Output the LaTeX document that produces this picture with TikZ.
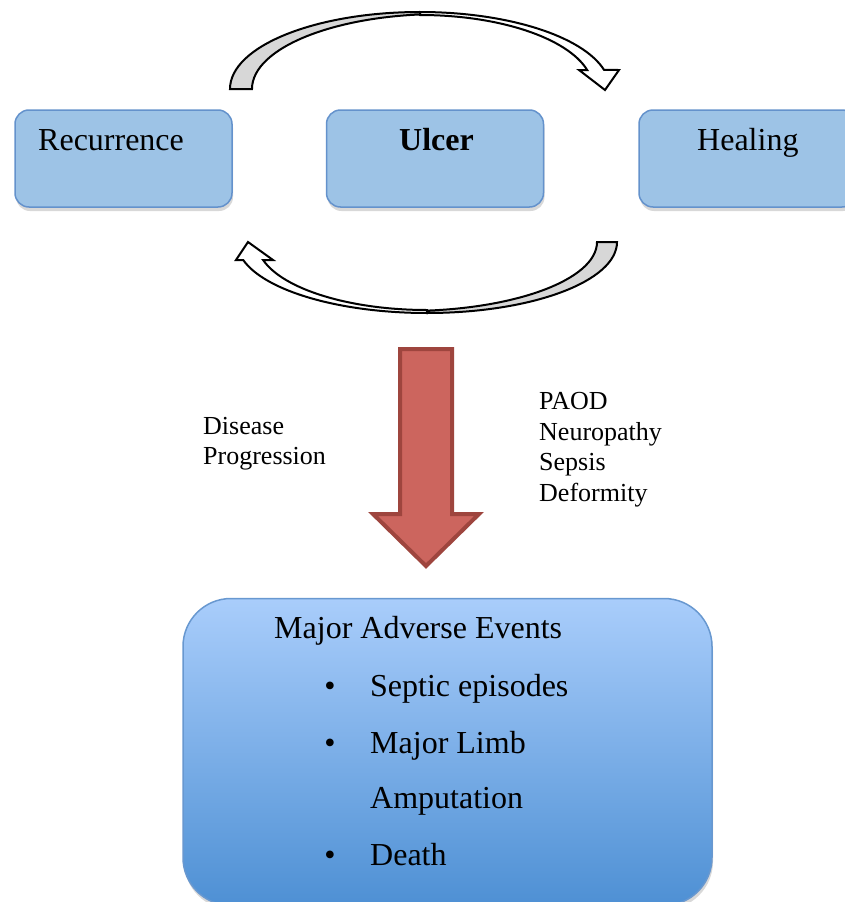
\documentclass[tikz,border=0pt]{standalone}
\usepackage{fontspec}
\setmainfont{Liberation Serif}
\usetikzlibrary{shadows}
\definecolor{boxfill}{RGB}{157,195,230}
\definecolor{boxline}{RGB}{100,146,204}
\definecolor{redfill}{RGB}{204,101,94}
\definecolor{redline}{RGB}{158,69,62}
\definecolor{bigtop}{RGB}{169,205,251}
\definecolor{bigbot}{RGB}{78,144,212}
\definecolor{bigline}{RGB}{104,152,208}
\definecolor{arrowgray}{RGB}{215,215,215}
\begin{document}
\begin{tikzpicture}[x=1pt,y=-1pt,
  stagebox/.style={draw=boxline, line width=1.5pt, fill=boxfill, rounded corners=14pt,
    minimum width=217pt, minimum height=97pt, inner sep=0pt,
    drop shadow={shadow xshift=1pt, shadow yshift=-4pt, opacity=0.3}},
  bigbox/.style={draw=bigline, line width=1.5pt, top color=bigtop, bottom color=bigbot,
    rounded corners=48pt, minimum width=529pt, minimum height=307pt, inner sep=0pt,
    drop shadow={shadow xshift=1pt, shadow yshift=-4pt, opacity=0.3}},
  bigtext/.style={font=\fontsize{32}{38}\selectfont, inner sep=0pt, anchor=base west},
  smalltext/.style={font=\fontsize{26}{30}\selectfont, inner sep=0pt, anchor=base west},
  arrowline/.style={draw=black, line width=2pt, line join=miter}]
\useasboundingbox (0,0) rectangle (845,902);
\clip (0,0) rectangle (845,902);
\fill[white] (0,0) rectangle (845,902);

% stage boxes
\node[stagebox] (recbox) at (123.5,158.5) {};
\node[stagebox] (ulcbox) at (435,158.5) {};
\node[stagebox] (healbox) at (747.5,158.5) {};
\node[bigtext] (rectext) at (38,150) {Recurrence};
\node[bigtext, font=\fontsize{32}{38}\selectfont\bfseries] (ulctext) at (399,150) {Ulcer};
\node[bigtext] (healtext) at (697,150) {Healing};

% top curved arrow
\draw[arrowline, fill=arrowgray] (230,89) arc[start angle=180,end angle=270,x radius=190,y radius=77]
  -- (441,14) arc[start angle=270,end angle=180,x radius=189,y radius=75] -- cycle;
\draw[arrowline, fill=white] (420,12) arc[start angle=270,end angle=345.7,x radius=190,y radius=77]
  -- (619,70) -- (605,90) -- (579,70) -- (587.2,70)
  arc[start angle=345.12,end angle=270,x radius=173,y radius=74] -- cycle;

% bottom curved arrow
\draw[arrowline, fill=arrowgray] (617,242) arc[start angle=0,end angle=90,x radius=190,y radius=71]
  -- (407,311) arc[start angle=90,end angle=0,x radius=190,y radius=69] -- cycle;
\draw[arrowline, fill=white] (427,313) arc[start angle=90,end angle=165.31,x radius=190,y radius=71]
  -- (236,260) -- (248,242) -- (273,260) -- (263.1,260)
  arc[start angle=164.65,end angle=90,x radius=170,y radius=68] -- cycle;

% red down arrow
\draw[line width=4pt, draw=redline, fill=redfill, line join=miter]
  (400,349) -- (452,349) -- (452,514) -- (479,514) -- (426,566) -- (373,514) -- (400,514) -- cycle;

% side labels
\node[smalltext] (dis1) at (203,434) {Disease};
\node[smalltext] (dis2) at (203,464) {Progression};
\node[smalltext] (c1) at (539,409) {PAOD};
\node[smalltext] (c2) at (539,440) {Neuropathy};
\node[smalltext] (c3) at (539,470) {Sepsis};
\node[smalltext] (c4) at (539,501) {Deformity};

% bottom box
\node[bigbox] (events) at (447.5,752) {};
\node[bigtext] (evtitle) at (274,638) {Major Adverse Events};
\node[bigtext, anchor=base] (b1) at (330,696) {\textbullet};
\node[bigtext] (e1) at (370,696) {Septic episodes};
\node[bigtext, anchor=base] (b2) at (330,753) {\textbullet};
\node[bigtext] (e2) at (370,753) {Major Limb};
\node[bigtext] (e2b) at (370,808) {Amputation};
\node[bigtext, anchor=base] (b3) at (330,865) {\textbullet};
\node[bigtext] (e3) at (370,865) {Death};
\end{tikzpicture}
\end{document}
